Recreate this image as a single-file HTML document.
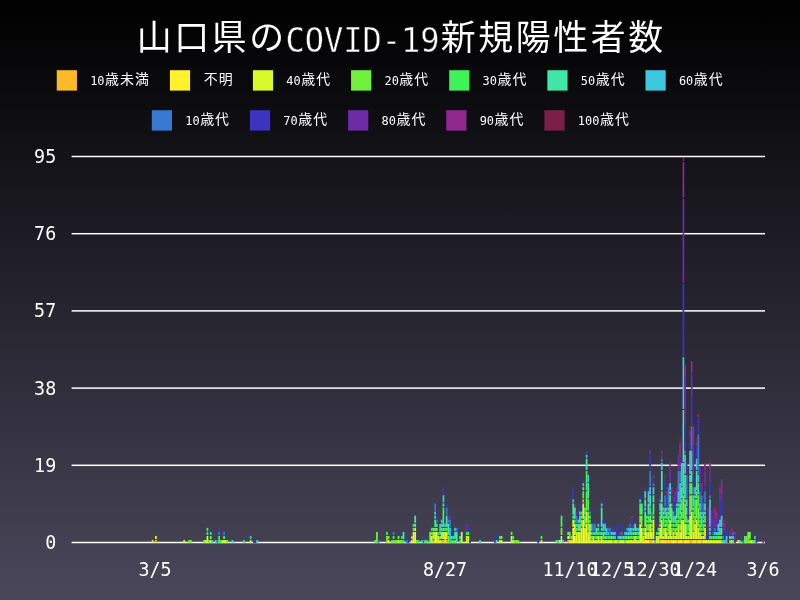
<!DOCTYPE html>
<html lang="ja"><head><meta charset="utf-8"><title>山口県のCOVID-19新規陽性者数</title>
<style>
html,body{margin:0;padding:0;background:#000;}
body{width:800px;height:600px;overflow:hidden;}
svg{display:block;}
text{fill:#fff;}
</style></head><body>
<svg width="800" height="600" viewBox="0 0 800 600">
<defs><linearGradient id="bg" x1="0" y1="0" x2="0" y2="1"><stop offset="0" stop-color="#000000"/><stop offset="1" stop-color="#4a475b"/></linearGradient></defs>
<rect width="800" height="600" fill="url(#bg)"/>
<text><tspan x="136.76" y="50.00" font-family='"Noto Sans CJK JP","Noto Sans CJK SC",sans-serif' font-size="34.88" letter-spacing="2.62">山口県の</tspan><tspan x="285.45" y="51.60" stroke="#040405" stroke-width="0.45" font-family='"DejaVu Sans Mono","Liberation Mono",monospace' font-size="33.19" textLength="154.11" lengthAdjust="spacingAndGlyphs">COVID-19</tspan><tspan x="440.87" y="50.00" font-family='"Noto Sans CJK JP","Noto Sans CJK SC",sans-serif' font-size="34.88" letter-spacing="2.62">新規陽性者数</tspan></text>
<rect x="56.75" y="70.2" width="20.2" height="20.4" fill="#fdba28"/><text><tspan x="90.15" y="84.80" font-family='"DejaVu Sans Mono","Liberation Mono",monospace' font-size="12.80" textLength="14.40" lengthAdjust="spacingAndGlyphs">10</tspan><tspan x="105.08" y="84.40" font-family='"Noto Sans CJK JP","Noto Sans CJK SC",sans-serif' font-size="13.95" letter-spacing="1.05">歳未満</tspan></text>
<rect x="169.90" y="70.2" width="20.2" height="20.4" fill="#fff22c"/><text><tspan x="203.83" y="84.40" font-family='"Noto Sans CJK JP","Noto Sans CJK SC",sans-serif' font-size="13.95" letter-spacing="1.05">不明</tspan></text>
<rect x="252.90" y="70.2" width="20.2" height="20.4" fill="#d8fa2c"/><text><tspan x="286.30" y="84.80" font-family='"DejaVu Sans Mono","Liberation Mono",monospace' font-size="12.80" textLength="14.40" lengthAdjust="spacingAndGlyphs">40</tspan><tspan x="301.22" y="84.40" font-family='"Noto Sans CJK JP","Noto Sans CJK SC",sans-serif' font-size="13.95" letter-spacing="1.05">歳代</tspan></text>
<rect x="351.05" y="70.2" width="20.2" height="20.4" fill="#70f23c"/><text><tspan x="384.45" y="84.80" font-family='"DejaVu Sans Mono","Liberation Mono",monospace' font-size="12.80" textLength="14.40" lengthAdjust="spacingAndGlyphs">20</tspan><tspan x="399.37" y="84.40" font-family='"Noto Sans CJK JP","Noto Sans CJK SC",sans-serif' font-size="13.95" letter-spacing="1.05">歳代</tspan></text>
<rect x="449.20" y="70.2" width="20.2" height="20.4" fill="#3ef258"/><text><tspan x="482.60" y="84.80" font-family='"DejaVu Sans Mono","Liberation Mono",monospace' font-size="12.80" textLength="14.40" lengthAdjust="spacingAndGlyphs">30</tspan><tspan x="497.52" y="84.40" font-family='"Noto Sans CJK JP","Noto Sans CJK SC",sans-serif' font-size="13.95" letter-spacing="1.05">歳代</tspan></text>
<rect x="547.35" y="70.2" width="20.2" height="20.4" fill="#3fe8a8"/><text><tspan x="580.75" y="84.80" font-family='"DejaVu Sans Mono","Liberation Mono",monospace' font-size="12.80" textLength="14.40" lengthAdjust="spacingAndGlyphs">50</tspan><tspan x="595.67" y="84.40" font-family='"Noto Sans CJK JP","Noto Sans CJK SC",sans-serif' font-size="13.95" letter-spacing="1.05">歳代</tspan></text>
<rect x="645.50" y="70.2" width="20.2" height="20.4" fill="#3ec8e0"/><text><tspan x="678.90" y="84.80" font-family='"DejaVu Sans Mono","Liberation Mono",monospace' font-size="12.80" textLength="14.40" lengthAdjust="spacingAndGlyphs">60</tspan><tspan x="693.82" y="84.40" font-family='"Noto Sans CJK JP","Noto Sans CJK SC",sans-serif' font-size="13.95" letter-spacing="1.05">歳代</tspan></text>
<rect x="151.80" y="110.2" width="20.2" height="20.4" fill="#3878d0"/><text><tspan x="185.20" y="124.80" font-family='"DejaVu Sans Mono","Liberation Mono",monospace' font-size="12.80" textLength="14.40" lengthAdjust="spacingAndGlyphs">10</tspan><tspan x="200.13" y="124.40" font-family='"Noto Sans CJK JP","Noto Sans CJK SC",sans-serif' font-size="13.95" letter-spacing="1.05">歳代</tspan></text>
<rect x="249.95" y="110.2" width="20.2" height="20.4" fill="#3a34c0"/><text><tspan x="283.35" y="124.80" font-family='"DejaVu Sans Mono","Liberation Mono",monospace' font-size="12.80" textLength="14.40" lengthAdjust="spacingAndGlyphs">70</tspan><tspan x="298.27" y="124.40" font-family='"Noto Sans CJK JP","Noto Sans CJK SC",sans-serif' font-size="13.95" letter-spacing="1.05">歳代</tspan></text>
<rect x="348.10" y="110.2" width="20.2" height="20.4" fill="#6c2ca8"/><text><tspan x="381.50" y="124.80" font-family='"DejaVu Sans Mono","Liberation Mono",monospace' font-size="12.80" textLength="14.40" lengthAdjust="spacingAndGlyphs">80</tspan><tspan x="396.42" y="124.40" font-family='"Noto Sans CJK JP","Noto Sans CJK SC",sans-serif' font-size="13.95" letter-spacing="1.05">歳代</tspan></text>
<rect x="446.25" y="110.2" width="20.2" height="20.4" fill="#902890"/><text><tspan x="479.65" y="124.80" font-family='"DejaVu Sans Mono","Liberation Mono",monospace' font-size="12.80" textLength="14.40" lengthAdjust="spacingAndGlyphs">90</tspan><tspan x="494.57" y="124.40" font-family='"Noto Sans CJK JP","Noto Sans CJK SC",sans-serif' font-size="13.95" letter-spacing="1.05">歳代</tspan></text>
<rect x="544.40" y="110.2" width="20.2" height="20.4" fill="#7a2048"/><text><tspan x="577.80" y="124.80" font-family='"DejaVu Sans Mono","Liberation Mono",monospace' font-size="12.80" textLength="21.60" lengthAdjust="spacingAndGlyphs">100</tspan><tspan x="599.92" y="124.40" font-family='"Noto Sans CJK JP","Noto Sans CJK SC",sans-serif' font-size="13.95" letter-spacing="1.05">歳代</tspan></text>
<rect x="71.6" y="541.75" width="693.4" height="1.5" fill="#ffffff"/><text><tspan x="45.16" y="549.00" font-family='"DejaVu Sans Mono","Liberation Mono",monospace' font-size="19.03" textLength="11.04" lengthAdjust="spacingAndGlyphs">0</tspan></text>
<rect x="71.6" y="464.55" width="693.4" height="1.5" fill="#ffffff"/><text><tspan x="34.11" y="471.80" font-family='"DejaVu Sans Mono","Liberation Mono",monospace' font-size="19.03" textLength="22.09" lengthAdjust="spacingAndGlyphs">19</tspan></text>
<rect x="71.6" y="387.35" width="693.4" height="1.5" fill="#ffffff"/><text><tspan x="34.11" y="394.60" font-family='"DejaVu Sans Mono","Liberation Mono",monospace' font-size="19.03" textLength="22.09" lengthAdjust="spacingAndGlyphs">38</tspan></text>
<rect x="71.6" y="310.15" width="693.4" height="1.5" fill="#ffffff"/><text><tspan x="34.11" y="317.40" font-family='"DejaVu Sans Mono","Liberation Mono",monospace' font-size="19.03" textLength="22.09" lengthAdjust="spacingAndGlyphs">57</tspan></text>
<rect x="71.6" y="232.95" width="693.4" height="1.5" fill="#ffffff"/><text><tspan x="34.11" y="240.20" font-family='"DejaVu Sans Mono","Liberation Mono",monospace' font-size="19.03" textLength="22.09" lengthAdjust="spacingAndGlyphs">76</tspan></text>
<rect x="71.6" y="155.75" width="693.4" height="1.5" fill="#ffffff"/><text><tspan x="34.11" y="163.00" font-family='"DejaVu Sans Mono","Liberation Mono",monospace' font-size="19.03" textLength="22.09" lengthAdjust="spacingAndGlyphs">95</tspan></text>
<text><tspan x="138.43" y="576.10" font-family='"DejaVu Sans Mono","Liberation Mono",monospace' font-size="19.03" textLength="33.13" lengthAdjust="spacingAndGlyphs">3/5</tspan></text>
<text><tspan x="422.91" y="576.10" font-family='"DejaVu Sans Mono","Liberation Mono",monospace' font-size="19.03" textLength="44.18" lengthAdjust="spacingAndGlyphs">8/27</tspan></text>
<text><tspan x="542.39" y="576.10" font-family='"DejaVu Sans Mono","Liberation Mono",monospace' font-size="19.03" textLength="55.22" lengthAdjust="spacingAndGlyphs">11/10</tspan></text>
<text><tspan x="589.91" y="576.10" font-family='"DejaVu Sans Mono","Liberation Mono",monospace' font-size="19.03" textLength="44.18" lengthAdjust="spacingAndGlyphs">12/5</tspan></text>
<text><tspan x="625.39" y="576.10" font-family='"DejaVu Sans Mono","Liberation Mono",monospace' font-size="19.03" textLength="55.22" lengthAdjust="spacingAndGlyphs">12/30</tspan></text>
<text><tspan x="672.91" y="576.10" font-family='"DejaVu Sans Mono","Liberation Mono",monospace' font-size="19.03" textLength="44.18" lengthAdjust="spacingAndGlyphs">1/24</tspan></text>
<text><tspan x="746.43" y="576.10" font-family='"DejaVu Sans Mono","Liberation Mono",monospace' font-size="19.03" textLength="33.13" lengthAdjust="spacingAndGlyphs">3/6</tspan></text>
<g><rect x="151.73" y="540.04" width="1.75" height="3.06" fill="#d8fa2c"/><rect x="155.05" y="540.04" width="1.75" height="3.06" fill="#fdba28"/><rect x="155.05" y="535.97" width="1.75" height="3.06" fill="#d8fa2c"/><rect x="183.30" y="540.04" width="1.75" height="3.06" fill="#d8fa2c"/><rect x="188.29" y="540.04" width="1.75" height="3.06" fill="#70f23c"/><rect x="189.95" y="540.04" width="1.75" height="3.06" fill="#70f23c"/><rect x="203.25" y="540.04" width="1.75" height="3.06" fill="#70f23c"/><rect x="204.91" y="540.04" width="1.75" height="3.06" fill="#d8fa2c"/><rect x="206.57" y="535.97" width="1.75" height="7.13" fill="#d8fa2c"/><rect x="206.57" y="531.91" width="1.75" height="3.06" fill="#3ef258"/><rect x="206.57" y="527.85" width="1.75" height="3.06" fill="#3fe8a8"/><rect x="208.23" y="540.04" width="1.75" height="3.06" fill="#70f23c"/><rect x="209.89" y="540.04" width="1.75" height="3.06" fill="#d8fa2c"/><rect x="209.89" y="535.97" width="1.75" height="3.06" fill="#70f23c"/><rect x="209.89" y="531.91" width="1.75" height="3.06" fill="#3ec8e0"/><rect x="211.55" y="540.04" width="1.75" height="3.06" fill="#3ec8e0"/><rect x="214.88" y="540.04" width="1.75" height="3.06" fill="#3fe8a8"/><rect x="216.54" y="540.04" width="1.75" height="3.06" fill="#3878d0"/><rect x="218.20" y="535.97" width="1.75" height="7.13" fill="#3ef258"/><rect x="218.20" y="531.91" width="1.75" height="3.06" fill="#3878d0"/><rect x="218.20" y="527.85" width="1.75" height="3.06" fill="#3a34c0"/><rect x="219.86" y="540.04" width="1.75" height="3.06" fill="#3ef258"/><rect x="221.53" y="540.04" width="1.75" height="3.06" fill="#d8fa2c"/><rect x="223.19" y="540.04" width="1.75" height="3.06" fill="#d8fa2c"/><rect x="223.19" y="535.97" width="1.75" height="3.06" fill="#3fe8a8"/><rect x="223.19" y="531.91" width="1.75" height="3.06" fill="#3878d0"/><rect x="224.85" y="540.04" width="1.75" height="3.06" fill="#d8fa2c"/><rect x="226.51" y="540.04" width="1.75" height="3.06" fill="#70f23c"/><rect x="231.50" y="540.04" width="1.75" height="3.06" fill="#3fe8a8"/><rect x="243.13" y="540.04" width="1.75" height="3.06" fill="#3fe8a8"/><rect x="249.78" y="540.04" width="1.75" height="3.06" fill="#d8fa2c"/><rect x="249.78" y="535.97" width="1.75" height="3.06" fill="#3ec8e0"/><rect x="253.10" y="540.04" width="1.75" height="3.06" fill="#3a34c0"/><rect x="254.76" y="540.04" width="1.75" height="3.06" fill="#3a34c0"/><rect x="256.43" y="540.04" width="1.75" height="3.06" fill="#3fe8a8"/><rect x="374.42" y="540.04" width="1.75" height="3.06" fill="#70f23c"/><rect x="376.08" y="531.91" width="1.75" height="11.19" fill="#70f23c"/><rect x="377.74" y="540.04" width="1.75" height="3.06" fill="#3878d0"/><rect x="386.05" y="535.97" width="1.75" height="7.13" fill="#70f23c"/><rect x="386.05" y="531.91" width="1.75" height="3.06" fill="#3ef258"/><rect x="387.72" y="540.04" width="1.75" height="3.06" fill="#fff22c"/><rect x="387.72" y="535.97" width="1.75" height="3.06" fill="#70f23c"/><rect x="391.04" y="540.04" width="1.75" height="3.06" fill="#3ef258"/><rect x="392.70" y="540.04" width="1.75" height="3.06" fill="#70f23c"/><rect x="392.70" y="535.97" width="1.75" height="3.06" fill="#3ef258"/><rect x="392.70" y="531.91" width="1.75" height="3.06" fill="#3878d0"/><rect x="394.36" y="540.04" width="1.75" height="3.06" fill="#70f23c"/><rect x="396.03" y="540.04" width="1.75" height="3.06" fill="#70f23c"/><rect x="397.69" y="540.04" width="1.75" height="3.06" fill="#d8fa2c"/><rect x="397.69" y="535.97" width="1.75" height="3.06" fill="#70f23c"/><rect x="399.35" y="540.04" width="1.75" height="3.06" fill="#70f23c"/><rect x="401.01" y="540.04" width="1.75" height="3.06" fill="#70f23c"/><rect x="401.01" y="535.97" width="1.75" height="3.06" fill="#3ec8e0"/><rect x="402.67" y="540.04" width="1.75" height="3.06" fill="#3ef258"/><rect x="402.67" y="531.91" width="1.75" height="7.13" fill="#3fe8a8"/><rect x="406.00" y="540.04" width="1.75" height="3.06" fill="#3878d0"/><rect x="407.66" y="540.04" width="1.75" height="3.06" fill="#3a34c0"/><rect x="410.98" y="540.04" width="1.75" height="3.06" fill="#d8fa2c"/><rect x="410.98" y="535.97" width="1.75" height="3.06" fill="#3fe8a8"/><rect x="410.98" y="531.91" width="1.75" height="3.06" fill="#3a34c0"/><rect x="412.64" y="531.91" width="1.75" height="11.19" fill="#fff22c"/><rect x="412.64" y="527.85" width="1.75" height="3.06" fill="#3fe8a8"/><rect x="412.64" y="523.78" width="1.75" height="3.06" fill="#3ec8e0"/><rect x="414.31" y="531.91" width="1.75" height="11.19" fill="#fff22c"/><rect x="414.31" y="527.85" width="1.75" height="3.06" fill="#d8fa2c"/><rect x="414.31" y="523.78" width="1.75" height="3.06" fill="#70f23c"/><rect x="414.31" y="515.66" width="1.75" height="7.13" fill="#3fe8a8"/><rect x="415.97" y="540.04" width="1.75" height="3.06" fill="#70f23c"/><rect x="417.63" y="540.04" width="1.75" height="3.06" fill="#3ef258"/><rect x="420.95" y="540.04" width="1.75" height="3.06" fill="#3fe8a8"/><rect x="422.62" y="540.04" width="1.75" height="3.06" fill="#3878d0"/><rect x="422.62" y="535.97" width="1.75" height="3.06" fill="#3a34c0"/><rect x="424.28" y="540.04" width="1.75" height="3.06" fill="#3ef258"/><rect x="425.94" y="540.04" width="1.75" height="3.06" fill="#3ef258"/><rect x="429.26" y="531.91" width="1.75" height="11.19" fill="#70f23c"/><rect x="430.93" y="535.97" width="1.75" height="7.13" fill="#d8fa2c"/><rect x="430.93" y="531.91" width="1.75" height="3.06" fill="#3ef258"/><rect x="430.93" y="527.85" width="1.75" height="3.06" fill="#3ec8e0"/><rect x="432.59" y="540.04" width="1.75" height="3.06" fill="#fdba28"/><rect x="432.59" y="531.91" width="1.75" height="7.13" fill="#d8fa2c"/><rect x="432.59" y="527.85" width="1.75" height="3.06" fill="#70f23c"/><rect x="434.25" y="531.91" width="1.75" height="11.19" fill="#d8fa2c"/><rect x="434.25" y="527.85" width="1.75" height="3.06" fill="#70f23c"/><rect x="434.25" y="519.72" width="1.75" height="7.13" fill="#3ef258"/><rect x="434.25" y="515.66" width="1.75" height="3.06" fill="#3fe8a8"/><rect x="434.25" y="511.59" width="1.75" height="3.06" fill="#3ec8e0"/><rect x="434.25" y="503.47" width="1.75" height="7.13" fill="#3878d0"/><rect x="435.91" y="531.91" width="1.75" height="11.19" fill="#d8fa2c"/><rect x="435.91" y="527.85" width="1.75" height="3.06" fill="#70f23c"/><rect x="435.91" y="523.78" width="1.75" height="3.06" fill="#3fe8a8"/><rect x="435.91" y="519.72" width="1.75" height="3.06" fill="#3878d0"/><rect x="435.91" y="515.66" width="1.75" height="3.06" fill="#3a34c0"/><rect x="437.57" y="535.97" width="1.75" height="7.13" fill="#d8fa2c"/><rect x="437.57" y="531.91" width="1.75" height="3.06" fill="#3ef258"/><rect x="439.23" y="540.04" width="1.75" height="3.06" fill="#d8fa2c"/><rect x="439.23" y="535.97" width="1.75" height="3.06" fill="#70f23c"/><rect x="439.23" y="523.78" width="1.75" height="11.19" fill="#3ec8e0"/><rect x="440.90" y="540.04" width="1.75" height="3.06" fill="#fdba28"/><rect x="440.90" y="531.91" width="1.75" height="7.13" fill="#d8fa2c"/><rect x="440.90" y="527.85" width="1.75" height="3.06" fill="#3ef258"/><rect x="440.90" y="523.78" width="1.75" height="3.06" fill="#3fe8a8"/><rect x="440.90" y="519.72" width="1.75" height="3.06" fill="#3ec8e0"/><rect x="442.56" y="540.04" width="1.75" height="3.06" fill="#fdba28"/><rect x="442.56" y="531.91" width="1.75" height="7.13" fill="#d8fa2c"/><rect x="442.56" y="527.85" width="1.75" height="3.06" fill="#70f23c"/><rect x="442.56" y="507.53" width="1.75" height="19.32" fill="#3ef258"/><rect x="442.56" y="503.47" width="1.75" height="3.06" fill="#3fe8a8"/><rect x="442.56" y="495.34" width="1.75" height="7.13" fill="#3ec8e0"/><rect x="442.56" y="487.22" width="1.75" height="7.13" fill="#3a34c0"/><rect x="444.22" y="531.91" width="1.75" height="11.19" fill="#d8fa2c"/><rect x="444.22" y="527.85" width="1.75" height="3.06" fill="#3ef258"/><rect x="444.22" y="523.78" width="1.75" height="3.06" fill="#3ec8e0"/><rect x="444.22" y="519.72" width="1.75" height="3.06" fill="#6c2ca8"/><rect x="445.88" y="540.04" width="1.75" height="3.06" fill="#fdba28"/><rect x="445.88" y="531.91" width="1.75" height="7.13" fill="#d8fa2c"/><rect x="445.88" y="527.85" width="1.75" height="3.06" fill="#3ef258"/><rect x="445.88" y="515.66" width="1.75" height="11.19" fill="#3fe8a8"/><rect x="445.88" y="507.53" width="1.75" height="7.13" fill="#3878d0"/><rect x="445.88" y="503.47" width="1.75" height="3.06" fill="#3a34c0"/><rect x="447.54" y="535.97" width="1.75" height="7.13" fill="#70f23c"/><rect x="447.54" y="523.78" width="1.75" height="11.19" fill="#3fe8a8"/><rect x="447.54" y="519.72" width="1.75" height="3.06" fill="#3878d0"/><rect x="447.54" y="515.66" width="1.75" height="3.06" fill="#6c2ca8"/><rect x="449.21" y="527.85" width="1.75" height="15.25" fill="#3ec8e0"/><rect x="449.21" y="519.72" width="1.75" height="7.13" fill="#3878d0"/><rect x="449.21" y="515.66" width="1.75" height="3.06" fill="#6c2ca8"/><rect x="450.87" y="540.04" width="1.75" height="3.06" fill="#3ef258"/><rect x="450.87" y="535.97" width="1.75" height="3.06" fill="#3fe8a8"/><rect x="450.87" y="531.91" width="1.75" height="3.06" fill="#3a34c0"/><rect x="452.53" y="540.04" width="1.75" height="3.06" fill="#3ef258"/><rect x="452.53" y="535.97" width="1.75" height="3.06" fill="#3fe8a8"/><rect x="452.53" y="531.91" width="1.75" height="3.06" fill="#3a34c0"/><rect x="454.19" y="540.04" width="1.75" height="3.06" fill="#70f23c"/><rect x="454.19" y="531.91" width="1.75" height="7.13" fill="#3fe8a8"/><rect x="454.19" y="527.85" width="1.75" height="3.06" fill="#3ec8e0"/><rect x="455.85" y="531.91" width="1.75" height="11.19" fill="#3fe8a8"/><rect x="455.85" y="527.85" width="1.75" height="3.06" fill="#3878d0"/><rect x="459.18" y="540.04" width="1.75" height="3.06" fill="#3ef258"/><rect x="459.18" y="535.97" width="1.75" height="3.06" fill="#3fe8a8"/><rect x="459.18" y="531.91" width="1.75" height="3.06" fill="#3a34c0"/><rect x="460.84" y="531.91" width="1.75" height="11.19" fill="#d8fa2c"/><rect x="465.83" y="535.97" width="1.75" height="7.13" fill="#d8fa2c"/><rect x="465.83" y="531.91" width="1.75" height="3.06" fill="#3ef258"/><rect x="465.83" y="523.78" width="1.75" height="7.13" fill="#6c2ca8"/><rect x="467.49" y="535.97" width="1.75" height="7.13" fill="#d8fa2c"/><rect x="467.49" y="531.91" width="1.75" height="3.06" fill="#3ef258"/><rect x="467.49" y="527.85" width="1.75" height="3.06" fill="#3a34c0"/><rect x="469.15" y="540.04" width="1.75" height="3.06" fill="#3a34c0"/><rect x="479.12" y="540.04" width="1.75" height="3.06" fill="#3fe8a8"/><rect x="494.08" y="540.04" width="1.75" height="3.06" fill="#3a34c0"/><rect x="495.74" y="540.04" width="1.75" height="3.06" fill="#3fe8a8"/><rect x="495.74" y="535.97" width="1.75" height="3.06" fill="#3a34c0"/><rect x="499.06" y="540.04" width="1.75" height="3.06" fill="#d8fa2c"/><rect x="499.06" y="535.97" width="1.75" height="3.06" fill="#3fe8a8"/><rect x="500.73" y="540.04" width="1.75" height="3.06" fill="#d8fa2c"/><rect x="500.73" y="535.97" width="1.75" height="3.06" fill="#70f23c"/><rect x="510.70" y="535.97" width="1.75" height="7.13" fill="#d8fa2c"/><rect x="510.70" y="531.91" width="1.75" height="3.06" fill="#70f23c"/><rect x="512.36" y="540.04" width="1.75" height="3.06" fill="#d8fa2c"/><rect x="512.36" y="535.97" width="1.75" height="3.06" fill="#3fe8a8"/><rect x="514.02" y="540.04" width="1.75" height="3.06" fill="#70f23c"/><rect x="515.68" y="540.04" width="1.75" height="3.06" fill="#70f23c"/><rect x="517.34" y="540.04" width="1.75" height="3.06" fill="#70f23c"/><rect x="537.29" y="540.04" width="1.75" height="3.06" fill="#3a34c0"/><rect x="540.61" y="540.04" width="1.75" height="3.06" fill="#d8fa2c"/><rect x="540.61" y="535.97" width="1.75" height="3.06" fill="#3ef258"/><rect x="555.62" y="540.04" width="1.75" height="3.06" fill="#70f23c"/><rect x="557.29" y="540.04" width="1.75" height="3.06" fill="#3ec8e0"/><rect x="558.96" y="540.04" width="1.75" height="3.06" fill="#d8fa2c"/><rect x="560.64" y="535.97" width="1.75" height="7.13" fill="#d8fa2c"/><rect x="560.64" y="527.85" width="1.75" height="7.13" fill="#70f23c"/><rect x="560.64" y="515.66" width="1.75" height="11.19" fill="#3ef258"/><rect x="562.31" y="540.04" width="1.75" height="3.06" fill="#3ec8e0"/><rect x="562.31" y="535.97" width="1.75" height="3.06" fill="#3a34c0"/><rect x="567.33" y="540.04" width="1.75" height="3.06" fill="#fdba28"/><rect x="567.33" y="535.97" width="1.75" height="3.06" fill="#d8fa2c"/><rect x="567.33" y="531.91" width="1.75" height="3.06" fill="#70f23c"/><rect x="567.33" y="527.85" width="1.75" height="3.06" fill="#3a34c0"/><rect x="569.00" y="540.04" width="1.75" height="3.06" fill="#d8fa2c"/><rect x="569.00" y="531.91" width="1.75" height="7.13" fill="#3ef258"/><rect x="570.68" y="540.04" width="1.75" height="3.06" fill="#d8fa2c"/><rect x="570.68" y="535.97" width="1.75" height="3.06" fill="#3fe8a8"/><rect x="572.35" y="527.85" width="1.75" height="15.25" fill="#fff22c"/><rect x="572.35" y="519.72" width="1.75" height="7.13" fill="#d8fa2c"/><rect x="572.35" y="515.66" width="1.75" height="3.06" fill="#3ef258"/><rect x="572.35" y="503.47" width="1.75" height="11.19" fill="#3fe8a8"/><rect x="572.35" y="499.40" width="1.75" height="3.06" fill="#3ec8e0"/><rect x="572.35" y="487.22" width="1.75" height="11.19" fill="#3a34c0"/><rect x="574.02" y="535.97" width="1.75" height="7.13" fill="#fff22c"/><rect x="574.02" y="523.78" width="1.75" height="11.19" fill="#d8fa2c"/><rect x="574.02" y="519.72" width="1.75" height="3.06" fill="#3ef258"/><rect x="574.02" y="507.53" width="1.75" height="11.19" fill="#3fe8a8"/><rect x="574.02" y="503.47" width="1.75" height="3.06" fill="#902890"/><rect x="575.70" y="531.91" width="1.75" height="11.19" fill="#d8fa2c"/><rect x="575.70" y="527.85" width="1.75" height="3.06" fill="#70f23c"/><rect x="575.70" y="523.78" width="1.75" height="3.06" fill="#3fe8a8"/><rect x="575.70" y="515.66" width="1.75" height="7.13" fill="#3878d0"/><rect x="575.70" y="511.59" width="1.75" height="3.06" fill="#6c2ca8"/><rect x="577.37" y="531.91" width="1.75" height="11.19" fill="#d8fa2c"/><rect x="577.37" y="523.78" width="1.75" height="7.13" fill="#3fe8a8"/><rect x="577.37" y="519.72" width="1.75" height="3.06" fill="#3ec8e0"/><rect x="579.04" y="531.91" width="1.75" height="11.19" fill="#d8fa2c"/><rect x="579.04" y="523.78" width="1.75" height="7.13" fill="#70f23c"/><rect x="579.04" y="515.66" width="1.75" height="7.13" fill="#3fe8a8"/><rect x="579.04" y="511.59" width="1.75" height="3.06" fill="#3ec8e0"/><rect x="579.04" y="503.47" width="1.75" height="7.13" fill="#3a34c0"/><rect x="580.72" y="527.85" width="1.75" height="15.25" fill="#d8fa2c"/><rect x="580.72" y="519.72" width="1.75" height="7.13" fill="#70f23c"/><rect x="580.72" y="515.66" width="1.75" height="3.06" fill="#3fe8a8"/><rect x="580.72" y="511.59" width="1.75" height="3.06" fill="#3ec8e0"/><rect x="582.39" y="519.72" width="1.75" height="23.38" fill="#fff22c"/><rect x="582.39" y="503.47" width="1.75" height="15.25" fill="#d8fa2c"/><rect x="582.39" y="499.40" width="1.75" height="3.06" fill="#70f23c"/><rect x="582.39" y="491.28" width="1.75" height="7.13" fill="#3ef258"/><rect x="582.39" y="487.22" width="1.75" height="3.06" fill="#3fe8a8"/><rect x="582.39" y="483.15" width="1.75" height="3.06" fill="#3ec8e0"/><rect x="582.39" y="479.09" width="1.75" height="3.06" fill="#3a34c0"/><rect x="584.06" y="527.85" width="1.75" height="15.25" fill="#d8fa2c"/><rect x="584.06" y="515.66" width="1.75" height="11.19" fill="#70f23c"/><rect x="584.06" y="507.53" width="1.75" height="7.13" fill="#3ef258"/><rect x="585.74" y="523.78" width="1.75" height="19.32" fill="#fff22c"/><rect x="585.74" y="511.59" width="1.75" height="11.19" fill="#d8fa2c"/><rect x="585.74" y="491.28" width="1.75" height="19.32" fill="#70f23c"/><rect x="585.74" y="470.96" width="1.75" height="19.32" fill="#3ef258"/><rect x="585.74" y="458.77" width="1.75" height="11.19" fill="#3fe8a8"/><rect x="585.74" y="454.71" width="1.75" height="3.06" fill="#3ec8e0"/><rect x="585.74" y="450.65" width="1.75" height="3.06" fill="#3a34c0"/><rect x="587.41" y="531.91" width="1.75" height="11.19" fill="#d8fa2c"/><rect x="587.41" y="511.59" width="1.75" height="19.32" fill="#70f23c"/><rect x="587.41" y="499.40" width="1.75" height="11.19" fill="#3ef258"/><rect x="587.41" y="483.15" width="1.75" height="15.25" fill="#3fe8a8"/><rect x="587.41" y="475.03" width="1.75" height="7.13" fill="#3ec8e0"/><rect x="589.08" y="523.78" width="1.75" height="19.32" fill="#d8fa2c"/><rect x="589.08" y="519.72" width="1.75" height="3.06" fill="#3ef258"/><rect x="589.08" y="515.66" width="1.75" height="3.06" fill="#3fe8a8"/><rect x="589.08" y="511.59" width="1.75" height="3.06" fill="#3878d0"/><rect x="589.08" y="507.53" width="1.75" height="3.06" fill="#6c2ca8"/><rect x="590.76" y="540.04" width="1.75" height="3.06" fill="#d8fa2c"/><rect x="590.76" y="535.97" width="1.75" height="3.06" fill="#70f23c"/><rect x="590.76" y="531.91" width="1.75" height="3.06" fill="#3fe8a8"/><rect x="590.76" y="523.78" width="1.75" height="7.13" fill="#3ec8e0"/><rect x="592.43" y="535.97" width="1.75" height="7.13" fill="#d8fa2c"/><rect x="592.43" y="531.91" width="1.75" height="3.06" fill="#3ec8e0"/><rect x="592.43" y="523.78" width="1.75" height="7.13" fill="#3878d0"/><rect x="594.10" y="540.04" width="1.75" height="3.06" fill="#d8fa2c"/><rect x="594.10" y="535.97" width="1.75" height="3.06" fill="#3ef258"/><rect x="594.10" y="531.91" width="1.75" height="3.06" fill="#3fe8a8"/><rect x="594.10" y="523.78" width="1.75" height="7.13" fill="#3878d0"/><rect x="594.10" y="519.72" width="1.75" height="3.06" fill="#3a34c0"/><rect x="595.78" y="540.04" width="1.75" height="3.06" fill="#d8fa2c"/><rect x="595.78" y="535.97" width="1.75" height="3.06" fill="#70f23c"/><rect x="595.78" y="527.85" width="1.75" height="7.13" fill="#3fe8a8"/><rect x="597.45" y="535.97" width="1.75" height="7.13" fill="#d8fa2c"/><rect x="597.45" y="531.91" width="1.75" height="3.06" fill="#3ef258"/><rect x="597.45" y="527.85" width="1.75" height="3.06" fill="#3fe8a8"/><rect x="597.45" y="523.78" width="1.75" height="3.06" fill="#3ec8e0"/><rect x="599.12" y="540.04" width="1.75" height="3.06" fill="#d8fa2c"/><rect x="599.12" y="535.97" width="1.75" height="3.06" fill="#70f23c"/><rect x="599.12" y="531.91" width="1.75" height="3.06" fill="#3ec8e0"/><rect x="600.80" y="535.97" width="1.75" height="7.13" fill="#d8fa2c"/><rect x="600.80" y="531.91" width="1.75" height="3.06" fill="#70f23c"/><rect x="600.80" y="527.85" width="1.75" height="3.06" fill="#3ef258"/><rect x="600.80" y="507.53" width="1.75" height="19.32" fill="#3fe8a8"/><rect x="600.80" y="503.47" width="1.75" height="3.06" fill="#3ec8e0"/><rect x="600.80" y="499.40" width="1.75" height="3.06" fill="#3a34c0"/><rect x="602.47" y="540.04" width="1.75" height="3.06" fill="#d8fa2c"/><rect x="602.47" y="531.91" width="1.75" height="7.13" fill="#3fe8a8"/><rect x="602.47" y="523.78" width="1.75" height="7.13" fill="#3ec8e0"/><rect x="602.47" y="519.72" width="1.75" height="3.06" fill="#3a34c0"/><rect x="604.14" y="540.04" width="1.75" height="3.06" fill="#d8fa2c"/><rect x="604.14" y="535.97" width="1.75" height="3.06" fill="#70f23c"/><rect x="604.14" y="531.91" width="1.75" height="3.06" fill="#3fe8a8"/><rect x="604.14" y="523.78" width="1.75" height="7.13" fill="#3ec8e0"/><rect x="604.14" y="519.72" width="1.75" height="3.06" fill="#3a34c0"/><rect x="605.82" y="540.04" width="1.75" height="3.06" fill="#d8fa2c"/><rect x="605.82" y="535.97" width="1.75" height="3.06" fill="#3fe8a8"/><rect x="605.82" y="527.85" width="1.75" height="7.13" fill="#3ec8e0"/><rect x="607.49" y="540.04" width="1.75" height="3.06" fill="#d8fa2c"/><rect x="607.49" y="535.97" width="1.75" height="3.06" fill="#3ef258"/><rect x="607.49" y="531.91" width="1.75" height="3.06" fill="#3ec8e0"/><rect x="607.49" y="527.85" width="1.75" height="3.06" fill="#3878d0"/><rect x="609.16" y="540.04" width="1.75" height="3.06" fill="#d8fa2c"/><rect x="609.16" y="535.97" width="1.75" height="3.06" fill="#3fe8a8"/><rect x="609.16" y="527.85" width="1.75" height="7.13" fill="#3878d0"/><rect x="610.84" y="540.04" width="1.75" height="3.06" fill="#d8fa2c"/><rect x="610.84" y="535.97" width="1.75" height="3.06" fill="#70f23c"/><rect x="610.84" y="531.91" width="1.75" height="3.06" fill="#3fe8a8"/><rect x="612.51" y="540.04" width="1.75" height="3.06" fill="#70f23c"/><rect x="612.51" y="535.97" width="1.75" height="3.06" fill="#3fe8a8"/><rect x="612.51" y="531.91" width="1.75" height="3.06" fill="#3ec8e0"/><rect x="612.51" y="527.85" width="1.75" height="3.06" fill="#6c2ca8"/><rect x="614.18" y="540.04" width="1.75" height="3.06" fill="#d8fa2c"/><rect x="614.18" y="535.97" width="1.75" height="3.06" fill="#3fe8a8"/><rect x="614.18" y="531.91" width="1.75" height="3.06" fill="#3ec8e0"/><rect x="615.86" y="540.04" width="1.75" height="3.06" fill="#d8fa2c"/><rect x="615.86" y="523.78" width="1.75" height="15.25" fill="#3a34c0"/><rect x="617.53" y="540.04" width="1.75" height="3.06" fill="#70f23c"/><rect x="617.53" y="535.97" width="1.75" height="3.06" fill="#3ec8e0"/><rect x="619.20" y="540.04" width="1.75" height="3.06" fill="#d8fa2c"/><rect x="619.20" y="535.97" width="1.75" height="3.06" fill="#3fe8a8"/><rect x="619.20" y="531.91" width="1.75" height="3.06" fill="#902890"/><rect x="620.88" y="540.04" width="1.75" height="3.06" fill="#d8fa2c"/><rect x="620.88" y="535.97" width="1.75" height="3.06" fill="#3ec8e0"/><rect x="620.88" y="531.91" width="1.75" height="3.06" fill="#3878d0"/><rect x="620.88" y="523.78" width="1.75" height="7.13" fill="#3a34c0"/><rect x="622.55" y="540.04" width="1.75" height="3.06" fill="#d8fa2c"/><rect x="622.55" y="535.97" width="1.75" height="3.06" fill="#3fe8a8"/><rect x="624.22" y="540.04" width="1.75" height="3.06" fill="#70f23c"/><rect x="624.22" y="535.97" width="1.75" height="3.06" fill="#3fe8a8"/><rect x="624.22" y="531.91" width="1.75" height="3.06" fill="#3ec8e0"/><rect x="625.90" y="540.04" width="1.75" height="3.06" fill="#d8fa2c"/><rect x="625.90" y="535.97" width="1.75" height="3.06" fill="#3fe8a8"/><rect x="625.90" y="531.91" width="1.75" height="3.06" fill="#3ec8e0"/><rect x="625.90" y="527.85" width="1.75" height="3.06" fill="#3878d0"/><rect x="627.57" y="540.04" width="1.75" height="3.06" fill="#d8fa2c"/><rect x="627.57" y="535.97" width="1.75" height="3.06" fill="#70f23c"/><rect x="627.57" y="531.91" width="1.75" height="3.06" fill="#3fe8a8"/><rect x="627.57" y="527.85" width="1.75" height="3.06" fill="#3ec8e0"/><rect x="629.24" y="540.04" width="1.75" height="3.06" fill="#d8fa2c"/><rect x="629.24" y="535.97" width="1.75" height="3.06" fill="#70f23c"/><rect x="629.24" y="527.85" width="1.75" height="7.13" fill="#3ec8e0"/><rect x="629.24" y="523.78" width="1.75" height="3.06" fill="#3878d0"/><rect x="630.92" y="540.04" width="1.75" height="3.06" fill="#d8fa2c"/><rect x="630.92" y="535.97" width="1.75" height="3.06" fill="#3ef258"/><rect x="630.92" y="531.91" width="1.75" height="3.06" fill="#3fe8a8"/><rect x="630.92" y="527.85" width="1.75" height="3.06" fill="#3ec8e0"/><rect x="630.92" y="519.72" width="1.75" height="7.13" fill="#3a34c0"/><rect x="630.92" y="515.66" width="1.75" height="3.06" fill="#902890"/><rect x="632.59" y="540.04" width="1.75" height="3.06" fill="#d8fa2c"/><rect x="632.59" y="535.97" width="1.75" height="3.06" fill="#70f23c"/><rect x="632.59" y="531.91" width="1.75" height="3.06" fill="#3fe8a8"/><rect x="632.59" y="527.85" width="1.75" height="3.06" fill="#3ec8e0"/><rect x="632.59" y="523.78" width="1.75" height="3.06" fill="#6c2ca8"/><rect x="634.26" y="535.97" width="1.75" height="7.13" fill="#d8fa2c"/><rect x="634.26" y="531.91" width="1.75" height="3.06" fill="#70f23c"/><rect x="634.26" y="523.78" width="1.75" height="7.13" fill="#3fe8a8"/><rect x="635.94" y="540.04" width="1.75" height="3.06" fill="#d8fa2c"/><rect x="635.94" y="535.97" width="1.75" height="3.06" fill="#70f23c"/><rect x="635.94" y="531.91" width="1.75" height="3.06" fill="#3fe8a8"/><rect x="635.94" y="527.85" width="1.75" height="3.06" fill="#3ec8e0"/><rect x="637.61" y="540.04" width="1.75" height="3.06" fill="#d8fa2c"/><rect x="637.61" y="535.97" width="1.75" height="3.06" fill="#70f23c"/><rect x="637.61" y="531.91" width="1.75" height="3.06" fill="#3fe8a8"/><rect x="637.61" y="527.85" width="1.75" height="3.06" fill="#3ec8e0"/><rect x="639.28" y="523.78" width="1.75" height="19.32" fill="#d8fa2c"/><rect x="639.28" y="515.66" width="1.75" height="7.13" fill="#70f23c"/><rect x="639.28" y="503.47" width="1.75" height="11.19" fill="#3ef258"/><rect x="639.28" y="499.40" width="1.75" height="3.06" fill="#3ec8e0"/><rect x="639.28" y="495.34" width="1.75" height="3.06" fill="#3a34c0"/><rect x="640.96" y="527.85" width="1.75" height="15.25" fill="#d8fa2c"/><rect x="640.96" y="515.66" width="1.75" height="11.19" fill="#70f23c"/><rect x="640.96" y="503.47" width="1.75" height="11.19" fill="#3fe8a8"/><rect x="642.63" y="535.97" width="1.75" height="7.13" fill="#d8fa2c"/><rect x="642.63" y="531.91" width="1.75" height="3.06" fill="#70f23c"/><rect x="642.63" y="527.85" width="1.75" height="3.06" fill="#3fe8a8"/><rect x="642.63" y="519.72" width="1.75" height="7.13" fill="#3a34c0"/><rect x="644.30" y="540.04" width="1.75" height="3.06" fill="#fff22c"/><rect x="644.30" y="527.85" width="1.75" height="11.19" fill="#d8fa2c"/><rect x="644.30" y="511.59" width="1.75" height="15.25" fill="#70f23c"/><rect x="644.30" y="507.53" width="1.75" height="3.06" fill="#3ef258"/><rect x="644.30" y="499.40" width="1.75" height="7.13" fill="#3fe8a8"/><rect x="644.30" y="491.28" width="1.75" height="7.13" fill="#3ec8e0"/><rect x="644.30" y="487.22" width="1.75" height="3.06" fill="#3a34c0"/><rect x="645.98" y="540.04" width="1.75" height="3.06" fill="#fff22c"/><rect x="645.98" y="531.91" width="1.75" height="7.13" fill="#d8fa2c"/><rect x="645.98" y="523.78" width="1.75" height="7.13" fill="#70f23c"/><rect x="645.98" y="519.72" width="1.75" height="3.06" fill="#3ef258"/><rect x="645.98" y="515.66" width="1.75" height="3.06" fill="#3fe8a8"/><rect x="645.98" y="507.53" width="1.75" height="7.13" fill="#3a34c0"/><rect x="645.98" y="503.47" width="1.75" height="3.06" fill="#902890"/><rect x="647.64" y="540.04" width="1.75" height="3.06" fill="#fff22c"/><rect x="647.64" y="531.91" width="1.75" height="7.13" fill="#d8fa2c"/><rect x="647.64" y="523.78" width="1.75" height="7.13" fill="#70f23c"/><rect x="647.64" y="515.66" width="1.75" height="7.13" fill="#3ef258"/><rect x="647.64" y="503.47" width="1.75" height="11.19" fill="#3fe8a8"/><rect x="647.64" y="491.28" width="1.75" height="11.19" fill="#3ec8e0"/><rect x="647.64" y="487.22" width="1.75" height="3.06" fill="#3a34c0"/><rect x="649.30" y="540.04" width="1.75" height="3.06" fill="#fdba28"/><rect x="649.30" y="523.78" width="1.75" height="15.25" fill="#d8fa2c"/><rect x="649.30" y="515.66" width="1.75" height="7.13" fill="#70f23c"/><rect x="649.30" y="507.53" width="1.75" height="7.13" fill="#3ef258"/><rect x="649.30" y="495.34" width="1.75" height="11.19" fill="#3fe8a8"/><rect x="649.30" y="487.22" width="1.75" height="7.13" fill="#3ec8e0"/><rect x="649.30" y="470.96" width="1.75" height="15.25" fill="#3878d0"/><rect x="649.30" y="454.71" width="1.75" height="15.25" fill="#3a34c0"/><rect x="649.30" y="450.65" width="1.75" height="3.06" fill="#902890"/><rect x="650.96" y="540.04" width="1.75" height="3.06" fill="#fdba28"/><rect x="650.96" y="531.91" width="1.75" height="7.13" fill="#d8fa2c"/><rect x="650.96" y="527.85" width="1.75" height="3.06" fill="#70f23c"/><rect x="650.96" y="523.78" width="1.75" height="3.06" fill="#3ef258"/><rect x="650.96" y="519.72" width="1.75" height="3.06" fill="#3fe8a8"/><rect x="650.96" y="511.59" width="1.75" height="7.13" fill="#3878d0"/><rect x="650.96" y="503.47" width="1.75" height="7.13" fill="#3a34c0"/><rect x="652.62" y="540.04" width="1.75" height="3.06" fill="#fff22c"/><rect x="652.62" y="519.72" width="1.75" height="19.32" fill="#d8fa2c"/><rect x="652.62" y="515.66" width="1.75" height="3.06" fill="#70f23c"/><rect x="652.62" y="503.47" width="1.75" height="11.19" fill="#3ef258"/><rect x="652.62" y="495.34" width="1.75" height="7.13" fill="#3fe8a8"/><rect x="652.62" y="487.22" width="1.75" height="7.13" fill="#3ec8e0"/><rect x="652.62" y="483.15" width="1.75" height="3.06" fill="#3878d0"/><rect x="652.62" y="479.09" width="1.75" height="3.06" fill="#3a34c0"/><rect x="652.62" y="475.03" width="1.75" height="3.06" fill="#902890"/><rect x="654.28" y="540.04" width="1.75" height="3.06" fill="#3ec8e0"/><rect x="654.28" y="535.97" width="1.75" height="3.06" fill="#3878d0"/><rect x="655.95" y="535.97" width="1.75" height="7.13" fill="#d8fa2c"/><rect x="655.95" y="531.91" width="1.75" height="3.06" fill="#3fe8a8"/><rect x="657.61" y="535.97" width="1.75" height="7.13" fill="#d8fa2c"/><rect x="657.61" y="531.91" width="1.75" height="3.06" fill="#70f23c"/><rect x="657.61" y="527.85" width="1.75" height="3.06" fill="#3fe8a8"/><rect x="657.61" y="523.78" width="1.75" height="3.06" fill="#902890"/><rect x="659.27" y="540.04" width="1.75" height="3.06" fill="#fdba28"/><rect x="659.27" y="527.85" width="1.75" height="11.19" fill="#d8fa2c"/><rect x="659.27" y="523.78" width="1.75" height="3.06" fill="#70f23c"/><rect x="659.27" y="515.66" width="1.75" height="7.13" fill="#3ef258"/><rect x="659.27" y="511.59" width="1.75" height="3.06" fill="#3fe8a8"/><rect x="659.27" y="503.47" width="1.75" height="7.13" fill="#3ec8e0"/><rect x="659.27" y="499.40" width="1.75" height="3.06" fill="#3878d0"/><rect x="659.27" y="495.34" width="1.75" height="3.06" fill="#6c2ca8"/><rect x="660.93" y="540.04" width="1.75" height="3.06" fill="#fff22c"/><rect x="660.93" y="519.72" width="1.75" height="19.32" fill="#d8fa2c"/><rect x="660.93" y="503.47" width="1.75" height="15.25" fill="#70f23c"/><rect x="660.93" y="491.28" width="1.75" height="11.19" fill="#3ef258"/><rect x="660.93" y="470.96" width="1.75" height="19.32" fill="#3fe8a8"/><rect x="660.93" y="462.84" width="1.75" height="7.13" fill="#3ec8e0"/><rect x="660.93" y="458.77" width="1.75" height="3.06" fill="#3878d0"/><rect x="660.93" y="454.71" width="1.75" height="3.06" fill="#6c2ca8"/><rect x="660.93" y="450.65" width="1.75" height="3.06" fill="#902890"/><rect x="662.59" y="540.04" width="1.75" height="3.06" fill="#fff22c"/><rect x="662.59" y="535.97" width="1.75" height="3.06" fill="#d8fa2c"/><rect x="662.59" y="527.85" width="1.75" height="7.13" fill="#70f23c"/><rect x="662.59" y="515.66" width="1.75" height="11.19" fill="#3ef258"/><rect x="662.59" y="511.59" width="1.75" height="3.06" fill="#3fe8a8"/><rect x="662.59" y="507.53" width="1.75" height="3.06" fill="#3ec8e0"/><rect x="664.26" y="540.04" width="1.75" height="3.06" fill="#fff22c"/><rect x="664.26" y="527.85" width="1.75" height="11.19" fill="#d8fa2c"/><rect x="664.26" y="523.78" width="1.75" height="3.06" fill="#70f23c"/><rect x="664.26" y="519.72" width="1.75" height="3.06" fill="#3ef258"/><rect x="664.26" y="515.66" width="1.75" height="3.06" fill="#3fe8a8"/><rect x="664.26" y="507.53" width="1.75" height="7.13" fill="#3ec8e0"/><rect x="664.26" y="495.34" width="1.75" height="11.19" fill="#3878d0"/><rect x="664.26" y="479.09" width="1.75" height="15.25" fill="#3a34c0"/><rect x="664.26" y="475.03" width="1.75" height="3.06" fill="#6c2ca8"/><rect x="665.92" y="540.04" width="1.75" height="3.06" fill="#fdba28"/><rect x="665.92" y="531.91" width="1.75" height="7.13" fill="#d8fa2c"/><rect x="665.92" y="527.85" width="1.75" height="3.06" fill="#70f23c"/><rect x="665.92" y="519.72" width="1.75" height="7.13" fill="#3ef258"/><rect x="665.92" y="511.59" width="1.75" height="7.13" fill="#3fe8a8"/><rect x="665.92" y="507.53" width="1.75" height="3.06" fill="#3ec8e0"/><rect x="665.92" y="495.34" width="1.75" height="11.19" fill="#3a34c0"/><rect x="665.92" y="491.28" width="1.75" height="3.06" fill="#902890"/><rect x="667.58" y="540.04" width="1.75" height="3.06" fill="#fff22c"/><rect x="667.58" y="535.97" width="1.75" height="3.06" fill="#d8fa2c"/><rect x="667.58" y="523.78" width="1.75" height="11.19" fill="#70f23c"/><rect x="667.58" y="515.66" width="1.75" height="7.13" fill="#3ef258"/><rect x="667.58" y="511.59" width="1.75" height="3.06" fill="#3fe8a8"/><rect x="667.58" y="507.53" width="1.75" height="3.06" fill="#3ec8e0"/><rect x="667.58" y="487.22" width="1.75" height="19.32" fill="#3878d0"/><rect x="667.58" y="483.15" width="1.75" height="3.06" fill="#3a34c0"/><rect x="669.24" y="540.04" width="1.75" height="3.06" fill="#fdba28"/><rect x="669.24" y="519.72" width="1.75" height="19.32" fill="#d8fa2c"/><rect x="669.24" y="503.47" width="1.75" height="15.25" fill="#70f23c"/><rect x="669.24" y="495.34" width="1.75" height="7.13" fill="#3ef258"/><rect x="669.24" y="491.28" width="1.75" height="3.06" fill="#3fe8a8"/><rect x="669.24" y="483.15" width="1.75" height="7.13" fill="#3ec8e0"/><rect x="669.24" y="466.90" width="1.75" height="15.25" fill="#6c2ca8"/><rect x="669.24" y="462.84" width="1.75" height="3.06" fill="#902890"/><rect x="670.90" y="540.04" width="1.75" height="3.06" fill="#fff22c"/><rect x="670.90" y="535.97" width="1.75" height="3.06" fill="#d8fa2c"/><rect x="670.90" y="527.85" width="1.75" height="7.13" fill="#70f23c"/><rect x="670.90" y="523.78" width="1.75" height="3.06" fill="#3ef258"/><rect x="670.90" y="507.53" width="1.75" height="15.25" fill="#3fe8a8"/><rect x="670.90" y="503.47" width="1.75" height="3.06" fill="#3ec8e0"/><rect x="670.90" y="499.40" width="1.75" height="3.06" fill="#3a34c0"/><rect x="670.90" y="495.34" width="1.75" height="3.06" fill="#6c2ca8"/><rect x="670.90" y="487.22" width="1.75" height="7.13" fill="#902890"/><rect x="672.57" y="540.04" width="1.75" height="3.06" fill="#fff22c"/><rect x="672.57" y="531.91" width="1.75" height="7.13" fill="#d8fa2c"/><rect x="672.57" y="527.85" width="1.75" height="3.06" fill="#70f23c"/><rect x="672.57" y="523.78" width="1.75" height="3.06" fill="#3ef258"/><rect x="672.57" y="515.66" width="1.75" height="7.13" fill="#3fe8a8"/><rect x="672.57" y="511.59" width="1.75" height="3.06" fill="#3ec8e0"/><rect x="672.57" y="503.47" width="1.75" height="7.13" fill="#3a34c0"/><rect x="672.57" y="495.34" width="1.75" height="7.13" fill="#6c2ca8"/><rect x="674.23" y="540.04" width="1.75" height="3.06" fill="#fff22c"/><rect x="674.23" y="535.97" width="1.75" height="3.06" fill="#d8fa2c"/><rect x="674.23" y="527.85" width="1.75" height="7.13" fill="#70f23c"/><rect x="674.23" y="523.78" width="1.75" height="3.06" fill="#3ef258"/><rect x="674.23" y="515.66" width="1.75" height="7.13" fill="#3fe8a8"/><rect x="674.23" y="503.47" width="1.75" height="11.19" fill="#3a34c0"/><rect x="674.23" y="495.34" width="1.75" height="7.13" fill="#6c2ca8"/><rect x="674.23" y="491.28" width="1.75" height="3.06" fill="#902890"/><rect x="675.89" y="540.04" width="1.75" height="3.06" fill="#fdba28"/><rect x="675.89" y="531.91" width="1.75" height="7.13" fill="#d8fa2c"/><rect x="675.89" y="527.85" width="1.75" height="3.06" fill="#70f23c"/><rect x="675.89" y="519.72" width="1.75" height="7.13" fill="#3ef258"/><rect x="675.89" y="507.53" width="1.75" height="11.19" fill="#3fe8a8"/><rect x="675.89" y="503.47" width="1.75" height="3.06" fill="#3ec8e0"/><rect x="675.89" y="487.22" width="1.75" height="15.25" fill="#6c2ca8"/><rect x="677.55" y="540.04" width="1.75" height="3.06" fill="#fff22c"/><rect x="677.55" y="523.78" width="1.75" height="15.25" fill="#d8fa2c"/><rect x="677.55" y="519.72" width="1.75" height="3.06" fill="#70f23c"/><rect x="677.55" y="507.53" width="1.75" height="11.19" fill="#3ef258"/><rect x="677.55" y="503.47" width="1.75" height="3.06" fill="#3fe8a8"/><rect x="677.55" y="491.28" width="1.75" height="11.19" fill="#3ec8e0"/><rect x="677.55" y="470.96" width="1.75" height="19.32" fill="#3878d0"/><rect x="677.55" y="454.71" width="1.75" height="15.25" fill="#6c2ca8"/><rect x="679.21" y="540.04" width="1.75" height="3.06" fill="#fff22c"/><rect x="679.21" y="531.91" width="1.75" height="7.13" fill="#d8fa2c"/><rect x="679.21" y="523.78" width="1.75" height="7.13" fill="#70f23c"/><rect x="679.21" y="515.66" width="1.75" height="7.13" fill="#3ef258"/><rect x="679.21" y="503.47" width="1.75" height="11.19" fill="#3fe8a8"/><rect x="679.21" y="483.15" width="1.75" height="19.32" fill="#3ec8e0"/><rect x="679.21" y="470.96" width="1.75" height="11.19" fill="#3878d0"/><rect x="679.21" y="466.90" width="1.75" height="3.06" fill="#3a34c0"/><rect x="679.21" y="458.77" width="1.75" height="7.13" fill="#6c2ca8"/><rect x="679.21" y="442.52" width="1.75" height="15.25" fill="#902890"/><rect x="679.21" y="438.46" width="1.75" height="3.06" fill="#7a2048"/><rect x="680.88" y="540.04" width="1.75" height="3.06" fill="#fff22c"/><rect x="680.88" y="519.72" width="1.75" height="19.32" fill="#d8fa2c"/><rect x="680.88" y="511.59" width="1.75" height="7.13" fill="#70f23c"/><rect x="680.88" y="499.40" width="1.75" height="11.19" fill="#3ef258"/><rect x="680.88" y="487.22" width="1.75" height="11.19" fill="#3fe8a8"/><rect x="680.88" y="462.84" width="1.75" height="23.38" fill="#3ec8e0"/><rect x="682.54" y="540.04" width="1.75" height="3.06" fill="#fdba28"/><rect x="682.54" y="519.72" width="1.75" height="19.32" fill="#d8fa2c"/><rect x="682.54" y="495.34" width="1.75" height="23.38" fill="#70f23c"/><rect x="682.54" y="462.84" width="1.75" height="31.51" fill="#3ef258"/><rect x="682.54" y="410.01" width="1.75" height="51.82" fill="#3fe8a8"/><rect x="682.54" y="357.19" width="1.75" height="51.82" fill="#3ec8e0"/><rect x="682.54" y="284.06" width="1.75" height="72.14" fill="#3a34c0"/><rect x="682.54" y="198.73" width="1.75" height="84.33" fill="#6c2ca8"/><rect x="682.54" y="162.16" width="1.75" height="35.57" fill="#902890"/><rect x="682.54" y="158.10" width="1.75" height="3.06" fill="#7a2048"/><rect x="684.20" y="540.04" width="1.75" height="3.06" fill="#fff22c"/><rect x="684.20" y="523.78" width="1.75" height="15.25" fill="#d8fa2c"/><rect x="684.20" y="503.47" width="1.75" height="19.32" fill="#70f23c"/><rect x="684.20" y="499.40" width="1.75" height="3.06" fill="#3ef258"/><rect x="684.20" y="475.03" width="1.75" height="23.38" fill="#3fe8a8"/><rect x="684.20" y="454.71" width="1.75" height="19.32" fill="#3ec8e0"/><rect x="684.20" y="450.65" width="1.75" height="3.06" fill="#3878d0"/><rect x="684.20" y="426.27" width="1.75" height="23.38" fill="#3a34c0"/><rect x="684.20" y="377.51" width="1.75" height="47.76" fill="#6c2ca8"/><rect x="684.20" y="365.32" width="1.75" height="11.19" fill="#902890"/><rect x="685.86" y="540.04" width="1.75" height="3.06" fill="#fff22c"/><rect x="685.86" y="535.97" width="1.75" height="3.06" fill="#d8fa2c"/><rect x="685.86" y="523.78" width="1.75" height="11.19" fill="#70f23c"/><rect x="685.86" y="515.66" width="1.75" height="7.13" fill="#3ef258"/><rect x="685.86" y="507.53" width="1.75" height="7.13" fill="#3fe8a8"/><rect x="685.86" y="499.40" width="1.75" height="7.13" fill="#3ec8e0"/><rect x="685.86" y="475.03" width="1.75" height="23.38" fill="#3878d0"/><rect x="685.86" y="470.96" width="1.75" height="3.06" fill="#3a34c0"/><rect x="685.86" y="462.84" width="1.75" height="7.13" fill="#6c2ca8"/><rect x="687.52" y="540.04" width="1.75" height="3.06" fill="#fff22c"/><rect x="687.52" y="535.97" width="1.75" height="3.06" fill="#d8fa2c"/><rect x="687.52" y="531.91" width="1.75" height="3.06" fill="#70f23c"/><rect x="687.52" y="523.78" width="1.75" height="7.13" fill="#3ef258"/><rect x="687.52" y="519.72" width="1.75" height="3.06" fill="#3fe8a8"/><rect x="687.52" y="515.66" width="1.75" height="3.06" fill="#3a34c0"/><rect x="687.52" y="507.53" width="1.75" height="7.13" fill="#6c2ca8"/><rect x="689.18" y="540.04" width="1.75" height="3.06" fill="#fdba28"/><rect x="689.18" y="515.66" width="1.75" height="23.38" fill="#d8fa2c"/><rect x="689.18" y="495.34" width="1.75" height="19.32" fill="#70f23c"/><rect x="689.18" y="483.15" width="1.75" height="11.19" fill="#3ef258"/><rect x="689.18" y="475.03" width="1.75" height="7.13" fill="#3fe8a8"/><rect x="689.18" y="450.65" width="1.75" height="23.38" fill="#3ec8e0"/><rect x="689.18" y="438.46" width="1.75" height="11.19" fill="#3a34c0"/><rect x="689.18" y="430.33" width="1.75" height="7.13" fill="#6c2ca8"/><rect x="689.18" y="426.27" width="1.75" height="3.06" fill="#7a2048"/><rect x="690.85" y="540.04" width="1.75" height="3.06" fill="#fdba28"/><rect x="690.85" y="511.59" width="1.75" height="27.44" fill="#d8fa2c"/><rect x="690.85" y="495.34" width="1.75" height="15.25" fill="#70f23c"/><rect x="690.85" y="483.15" width="1.75" height="11.19" fill="#3ef258"/><rect x="690.85" y="470.96" width="1.75" height="11.19" fill="#3fe8a8"/><rect x="690.85" y="450.65" width="1.75" height="19.32" fill="#3ec8e0"/><rect x="690.85" y="426.27" width="1.75" height="23.38" fill="#3878d0"/><rect x="690.85" y="397.82" width="1.75" height="27.44" fill="#3a34c0"/><rect x="690.85" y="373.45" width="1.75" height="23.38" fill="#6c2ca8"/><rect x="690.85" y="361.26" width="1.75" height="11.19" fill="#902890"/><rect x="692.51" y="540.04" width="1.75" height="3.06" fill="#fff22c"/><rect x="692.51" y="531.91" width="1.75" height="7.13" fill="#d8fa2c"/><rect x="692.51" y="519.72" width="1.75" height="11.19" fill="#70f23c"/><rect x="692.51" y="511.59" width="1.75" height="7.13" fill="#3ef258"/><rect x="692.51" y="507.53" width="1.75" height="3.06" fill="#3fe8a8"/><rect x="692.51" y="495.34" width="1.75" height="11.19" fill="#3ec8e0"/><rect x="692.51" y="487.22" width="1.75" height="7.13" fill="#3878d0"/><rect x="692.51" y="475.03" width="1.75" height="11.19" fill="#3a34c0"/><rect x="692.51" y="446.58" width="1.75" height="27.44" fill="#6c2ca8"/><rect x="692.51" y="426.27" width="1.75" height="19.32" fill="#902890"/><rect x="694.17" y="540.04" width="1.75" height="3.06" fill="#fff22c"/><rect x="694.17" y="523.78" width="1.75" height="15.25" fill="#d8fa2c"/><rect x="694.17" y="515.66" width="1.75" height="7.13" fill="#70f23c"/><rect x="694.17" y="499.40" width="1.75" height="15.25" fill="#3ef258"/><rect x="694.17" y="495.34" width="1.75" height="3.06" fill="#3fe8a8"/><rect x="694.17" y="487.22" width="1.75" height="7.13" fill="#3ec8e0"/><rect x="695.83" y="540.04" width="1.75" height="3.06" fill="#fdba28"/><rect x="695.83" y="519.72" width="1.75" height="19.32" fill="#d8fa2c"/><rect x="695.83" y="499.40" width="1.75" height="19.32" fill="#70f23c"/><rect x="695.83" y="491.28" width="1.75" height="7.13" fill="#3ef258"/><rect x="695.83" y="470.96" width="1.75" height="19.32" fill="#3fe8a8"/><rect x="695.83" y="458.77" width="1.75" height="11.19" fill="#3ec8e0"/><rect x="695.83" y="446.58" width="1.75" height="11.19" fill="#3a34c0"/><rect x="695.83" y="442.52" width="1.75" height="3.06" fill="#902890"/><rect x="695.83" y="438.46" width="1.75" height="3.06" fill="#7a2048"/><rect x="697.49" y="540.04" width="1.75" height="3.06" fill="#fff22c"/><rect x="697.49" y="527.85" width="1.75" height="11.19" fill="#d8fa2c"/><rect x="697.49" y="507.53" width="1.75" height="19.32" fill="#70f23c"/><rect x="697.49" y="495.34" width="1.75" height="11.19" fill="#3ef258"/><rect x="697.49" y="483.15" width="1.75" height="11.19" fill="#3fe8a8"/><rect x="697.49" y="475.03" width="1.75" height="7.13" fill="#3ec8e0"/><rect x="697.49" y="434.39" width="1.75" height="39.63" fill="#3878d0"/><rect x="697.49" y="418.14" width="1.75" height="15.25" fill="#3a34c0"/><rect x="697.49" y="414.08" width="1.75" height="3.06" fill="#902890"/><rect x="699.16" y="540.04" width="1.75" height="3.06" fill="#fff22c"/><rect x="699.16" y="531.91" width="1.75" height="7.13" fill="#d8fa2c"/><rect x="699.16" y="523.78" width="1.75" height="7.13" fill="#70f23c"/><rect x="699.16" y="519.72" width="1.75" height="3.06" fill="#3ef258"/><rect x="699.16" y="511.59" width="1.75" height="7.13" fill="#3fe8a8"/><rect x="699.16" y="503.47" width="1.75" height="7.13" fill="#3ec8e0"/><rect x="699.16" y="491.28" width="1.75" height="11.19" fill="#3878d0"/><rect x="699.16" y="487.22" width="1.75" height="3.06" fill="#3a34c0"/><rect x="699.16" y="466.90" width="1.75" height="19.32" fill="#6c2ca8"/><rect x="700.82" y="540.04" width="1.75" height="3.06" fill="#fdba28"/><rect x="700.82" y="535.97" width="1.75" height="3.06" fill="#d8fa2c"/><rect x="700.82" y="531.91" width="1.75" height="3.06" fill="#70f23c"/><rect x="700.82" y="527.85" width="1.75" height="3.06" fill="#3ef258"/><rect x="700.82" y="515.66" width="1.75" height="11.19" fill="#3fe8a8"/><rect x="700.82" y="511.59" width="1.75" height="3.06" fill="#3ec8e0"/><rect x="700.82" y="495.34" width="1.75" height="15.25" fill="#3878d0"/><rect x="700.82" y="491.28" width="1.75" height="3.06" fill="#6c2ca8"/><rect x="700.82" y="483.15" width="1.75" height="7.13" fill="#902890"/><rect x="702.48" y="540.04" width="1.75" height="3.06" fill="#fff22c"/><rect x="702.48" y="535.97" width="1.75" height="3.06" fill="#d8fa2c"/><rect x="702.48" y="531.91" width="1.75" height="3.06" fill="#70f23c"/><rect x="702.48" y="523.78" width="1.75" height="7.13" fill="#3ef258"/><rect x="702.48" y="519.72" width="1.75" height="3.06" fill="#3fe8a8"/><rect x="702.48" y="511.59" width="1.75" height="7.13" fill="#3ec8e0"/><rect x="702.48" y="503.47" width="1.75" height="7.13" fill="#3878d0"/><rect x="702.48" y="499.40" width="1.75" height="3.06" fill="#3a34c0"/><rect x="702.48" y="495.34" width="1.75" height="3.06" fill="#902890"/><rect x="704.14" y="540.04" width="1.75" height="3.06" fill="#fff22c"/><rect x="704.14" y="527.85" width="1.75" height="11.19" fill="#d8fa2c"/><rect x="704.14" y="523.78" width="1.75" height="3.06" fill="#70f23c"/><rect x="704.14" y="515.66" width="1.75" height="7.13" fill="#3ef258"/><rect x="704.14" y="511.59" width="1.75" height="3.06" fill="#3fe8a8"/><rect x="704.14" y="503.47" width="1.75" height="7.13" fill="#3ec8e0"/><rect x="704.14" y="491.28" width="1.75" height="11.19" fill="#3878d0"/><rect x="704.14" y="487.22" width="1.75" height="3.06" fill="#3a34c0"/><rect x="704.14" y="470.96" width="1.75" height="15.25" fill="#6c2ca8"/><rect x="704.14" y="462.84" width="1.75" height="7.13" fill="#902890"/><rect x="705.80" y="540.04" width="1.75" height="3.06" fill="#d8fa2c"/><rect x="705.80" y="535.97" width="1.75" height="3.06" fill="#3a34c0"/><rect x="707.47" y="540.04" width="1.75" height="3.06" fill="#d8fa2c"/><rect x="707.47" y="535.97" width="1.75" height="3.06" fill="#3a34c0"/><rect x="707.47" y="507.53" width="1.75" height="27.44" fill="#6c2ca8"/><rect x="709.13" y="540.04" width="1.75" height="3.06" fill="#d8fa2c"/><rect x="709.13" y="535.97" width="1.75" height="3.06" fill="#70f23c"/><rect x="709.13" y="531.91" width="1.75" height="3.06" fill="#3ef258"/><rect x="709.13" y="527.85" width="1.75" height="3.06" fill="#3fe8a8"/><rect x="709.13" y="499.40" width="1.75" height="27.44" fill="#3ec8e0"/><rect x="709.13" y="495.34" width="1.75" height="3.06" fill="#3878d0"/><rect x="709.13" y="483.15" width="1.75" height="11.19" fill="#3a34c0"/><rect x="709.13" y="470.96" width="1.75" height="11.19" fill="#6c2ca8"/><rect x="709.13" y="462.84" width="1.75" height="7.13" fill="#902890"/><rect x="709.13" y="458.77" width="1.75" height="3.06" fill="#7a2048"/><rect x="710.79" y="540.04" width="1.75" height="3.06" fill="#d8fa2c"/><rect x="710.79" y="535.97" width="1.75" height="3.06" fill="#3ec8e0"/><rect x="710.79" y="531.91" width="1.75" height="3.06" fill="#3a34c0"/><rect x="710.79" y="511.59" width="1.75" height="19.32" fill="#6c2ca8"/><rect x="710.79" y="507.53" width="1.75" height="3.06" fill="#7a2048"/><rect x="712.45" y="540.04" width="1.75" height="3.06" fill="#d8fa2c"/><rect x="712.45" y="535.97" width="1.75" height="3.06" fill="#3ef258"/><rect x="712.45" y="531.91" width="1.75" height="3.06" fill="#3878d0"/><rect x="712.45" y="527.85" width="1.75" height="3.06" fill="#3a34c0"/><rect x="712.45" y="519.72" width="1.75" height="7.13" fill="#6c2ca8"/><rect x="714.11" y="540.04" width="1.75" height="3.06" fill="#d8fa2c"/><rect x="714.11" y="535.97" width="1.75" height="3.06" fill="#3ef258"/><rect x="714.11" y="531.91" width="1.75" height="3.06" fill="#3ec8e0"/><rect x="714.11" y="527.85" width="1.75" height="3.06" fill="#3878d0"/><rect x="714.11" y="519.72" width="1.75" height="7.13" fill="#6c2ca8"/><rect x="714.11" y="507.53" width="1.75" height="11.19" fill="#902890"/><rect x="715.78" y="540.04" width="1.75" height="3.06" fill="#d8fa2c"/><rect x="715.78" y="535.97" width="1.75" height="3.06" fill="#3fe8a8"/><rect x="715.78" y="531.91" width="1.75" height="3.06" fill="#3ec8e0"/><rect x="715.78" y="527.85" width="1.75" height="3.06" fill="#3a34c0"/><rect x="715.78" y="519.72" width="1.75" height="7.13" fill="#6c2ca8"/><rect x="715.78" y="511.59" width="1.75" height="7.13" fill="#902890"/><rect x="715.78" y="503.47" width="1.75" height="7.13" fill="#7a2048"/><rect x="717.44" y="540.04" width="1.75" height="3.06" fill="#d8fa2c"/><rect x="717.44" y="535.97" width="1.75" height="3.06" fill="#70f23c"/><rect x="717.44" y="531.91" width="1.75" height="3.06" fill="#3fe8a8"/><rect x="717.44" y="523.78" width="1.75" height="7.13" fill="#3ec8e0"/><rect x="717.44" y="519.72" width="1.75" height="3.06" fill="#3a34c0"/><rect x="719.10" y="540.04" width="1.75" height="3.06" fill="#d8fa2c"/><rect x="719.10" y="535.97" width="1.75" height="3.06" fill="#70f23c"/><rect x="719.10" y="527.85" width="1.75" height="7.13" fill="#3ef258"/><rect x="719.10" y="519.72" width="1.75" height="7.13" fill="#3ec8e0"/><rect x="719.10" y="503.47" width="1.75" height="15.25" fill="#3a34c0"/><rect x="719.10" y="495.34" width="1.75" height="7.13" fill="#6c2ca8"/><rect x="719.10" y="487.22" width="1.75" height="7.13" fill="#902890"/><rect x="720.76" y="540.04" width="1.75" height="3.06" fill="#fdba28"/><rect x="720.76" y="535.97" width="1.75" height="3.06" fill="#70f23c"/><rect x="720.76" y="527.85" width="1.75" height="7.13" fill="#3fe8a8"/><rect x="720.76" y="515.66" width="1.75" height="11.19" fill="#3ec8e0"/><rect x="720.76" y="499.40" width="1.75" height="15.25" fill="#3a34c0"/><rect x="720.76" y="495.34" width="1.75" height="3.06" fill="#6c2ca8"/><rect x="720.76" y="479.09" width="1.75" height="15.25" fill="#902890"/><rect x="722.42" y="540.04" width="1.75" height="3.06" fill="#3ef258"/><rect x="722.42" y="535.97" width="1.75" height="3.06" fill="#3878d0"/><rect x="722.42" y="531.91" width="1.75" height="3.06" fill="#3a34c0"/><rect x="722.42" y="527.85" width="1.75" height="3.06" fill="#6c2ca8"/><rect x="722.42" y="519.72" width="1.75" height="7.13" fill="#902890"/><rect x="724.08" y="540.04" width="1.75" height="3.06" fill="#3ec8e0"/><rect x="724.08" y="531.91" width="1.75" height="7.13" fill="#3a34c0"/><rect x="724.08" y="527.85" width="1.75" height="3.06" fill="#6c2ca8"/><rect x="724.08" y="523.78" width="1.75" height="3.06" fill="#902890"/><rect x="725.75" y="535.97" width="1.75" height="7.13" fill="#3ec8e0"/><rect x="725.75" y="531.91" width="1.75" height="3.06" fill="#3a34c0"/><rect x="727.41" y="540.04" width="1.75" height="3.06" fill="#7a2048"/><rect x="729.07" y="540.04" width="1.75" height="3.06" fill="#3ef258"/><rect x="729.07" y="535.97" width="1.75" height="3.06" fill="#3fe8a8"/><rect x="729.07" y="531.91" width="1.75" height="3.06" fill="#6c2ca8"/><rect x="730.73" y="540.04" width="1.75" height="3.06" fill="#d8fa2c"/><rect x="730.73" y="535.97" width="1.75" height="3.06" fill="#3ec8e0"/><rect x="730.73" y="531.91" width="1.75" height="3.06" fill="#6c2ca8"/><rect x="730.73" y="527.85" width="1.75" height="3.06" fill="#902890"/><rect x="732.39" y="540.04" width="1.75" height="3.06" fill="#70f23c"/><rect x="732.39" y="535.97" width="1.75" height="3.06" fill="#3ec8e0"/><rect x="732.39" y="531.91" width="1.75" height="3.06" fill="#3878d0"/><rect x="734.06" y="535.97" width="1.75" height="7.13" fill="#6c2ca8"/><rect x="734.06" y="531.91" width="1.75" height="3.06" fill="#902890"/><rect x="737.38" y="540.04" width="1.75" height="3.06" fill="#d8fa2c"/><rect x="739.04" y="540.04" width="1.75" height="3.06" fill="#3fe8a8"/><rect x="739.04" y="535.97" width="1.75" height="3.06" fill="#3a34c0"/><rect x="742.37" y="540.04" width="1.75" height="3.06" fill="#3878d0"/><rect x="744.03" y="535.97" width="1.75" height="7.13" fill="#70f23c"/><rect x="745.69" y="535.97" width="1.75" height="7.13" fill="#70f23c"/><rect x="747.35" y="531.91" width="1.75" height="11.19" fill="#70f23c"/><rect x="749.01" y="540.04" width="1.75" height="3.06" fill="#fdba28"/><rect x="749.01" y="531.91" width="1.75" height="7.13" fill="#70f23c"/><rect x="750.67" y="540.04" width="1.75" height="3.06" fill="#d8fa2c"/><rect x="752.34" y="540.04" width="1.75" height="3.06" fill="#70f23c"/><rect x="754.00" y="540.04" width="1.75" height="3.06" fill="#70f23c"/><rect x="754.00" y="535.97" width="1.75" height="3.06" fill="#3ec8e0"/><rect x="755.66" y="540.04" width="1.75" height="3.06" fill="#3a34c0"/><rect x="762.31" y="540.04" width="1.75" height="3.06" fill="#902890"/></g>
</svg></body></html>
